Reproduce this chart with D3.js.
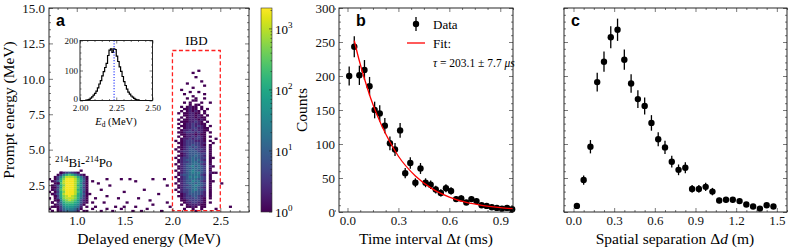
<!DOCTYPE html>
<html>
<head>
<meta charset="utf-8">
<title>Delayed coincidence panels</title>
<script src="https://cdn.jsdelivr.net/npm/d3@7"></script>
<style>
  body { margin: 0; background: #fff; }
</style>
</head>
<body>
<svg id="fig" width="793" height="251"></svg>
<script>
// ---------------- data ----------------
// panel a: ticks
var promptTicks = [2.5, 5.0, 7.5, 10.0, 12.5, 15.0];
var delayedTicks = [1.0, 1.5, 2.0, 2.5];
var cbarTicks = [1, 10, 100, 1000];

// 2D histogram bins (MeV)
var binDE = 0.03, binPE = 0.15;
// count level codes used in the grids below
var levelCounts = {'1': 1, '2': 2, '3': 4, '4': 8, '5': 15, '6': 30, '7': 60,
                   '8': 120, '9': 250, 'a': 500, 'b': 1000, 'c': 2000};

// IBD cluster: delayed 2.02 .. 2.44, rows from prompt 10.50 down to 0.60
var ibdFirstDelayed = 2.02, ibdTopRow = 10.5;
var ibdGrid = [
  "........1.....", "......1.......", "..............", ".......1......",
  "..............", ".........1....", "....1.........", "..........1...",
  "......1.......", "..1...........", ".....1..1.....", "...1......1...",
  "......1.......", "....1..1..1...", "......11......", "...1.1...1..1.",
  ".....1.11.....", "..1.1211.1....", "...11211.1.1..", "..1.12121.1...",
  ".1.112211.1...", "...1122121.1..", "..1.1221211...", ".1.11222121...",
  "..11122321.1..", ".1.12232211...", "..112232321.1.", ".1.122332211..",
  "..1223232211..", ".1123332321.1.",
  "..112221211...", ".1.12232321.1.", "..122323321...", "1.123332221.1.",
  ".1123333322..1", "..123343321.1.", ".1123434322.1.", "1.123443332.1.",
  ".1233444322.1.", "..123444433.1.", ".1123445432.1.", "1.233454433.11",
  ".1234454532.1.", ".1233455443.1.", "1.234455532.1.", ".1234564543.21",
  ".1234455543.1.", "1.234565443.1.", ".1234565643.21", ".1344555532.1.",
  "1.234656543.1.", ".1234555443.1.", ".1234465532.11", "1.234554543.1.",
  ".1233456543.1.", ".1234455432.1.", "1.233456443.1.", ".1233454432.1.",
  "..123444432.1.", ".1123344322.1.", "..123334321.1.", "..112333321...",
  "...12233221.1.", "..1.1222211...", "....1121.11...", "...1..1..1....",
  ".......1......"
];

// 214Bi-214Po cluster: delayed 0.70 .. 1.15, rows from prompt 3.30 down to 0.60
var bipoFirstDelayed = 0.7, bipoTopRow = 3.3;
var bipoGrid = [
  "....1234321....", "...1368986421..", "..1369bbba8631.", "..138acccb9741.",
  ".1248bcccb9741.", "..139bcccb9631.", ".1248acccb8741.", "..138bcccb9631.",
  ".1249bcccb8641.", "..138acccb9731.", ".1248bcccb8641.", "..138abcba8631.",
  "..137abbba8531.", "..1369aba97421.", ".1.25899987421.", "..12478887631..",
  ".1.136777652.1.", "1..135666541...", ".1.12455542.1.."
];

// isolated accidental events [delayed, prompt]
var bgEvents = [
  [0.72, 2.85], [0.75, 2.3], [0.72, 2.0], [0.78, 1.75], [0.72, 1.5], [0.75, 1.2],
  [0.78, 0.95], [0.72, 0.8], [0.75, 0.65], [0.79, 2.6], [0.79, 1.4], [0.73, 1.9],
  [1.16, 2.8], [1.22, 2.6], [1.3, 2.95], [1.45, 2.9], [1.55, 2.95], [1.62, 2.8],
  [1.78, 2.95], [1.9, 2.9], [1.25, 2.2], [1.35, 2.45], [1.5, 2.0], [1.7, 2.2],
  [1.85, 1.9], [1.95, 2.5], [1.18, 1.6], [1.28, 1.3], [1.4, 1.0], [1.52, 1.2],
  [1.6, 0.9], [1.65, 1.5], [1.72, 0.8], [1.8, 1.1], [1.88, 0.7], [1.95, 1.3],
  [1.98, 0.95], [1.15, 0.8], [1.2, 1.0], [1.25, 0.7], [1.32, 0.85], [1.38, 0.65],
  [1.45, 0.75], [1.5, 0.9], [1.58, 0.7], [1.12, 1.9], [1.17, 1.2], [1.3, 1.7],
  [1.42, 1.5], [1.1, 0.65], [1.67, 0.65], [1.75, 1.4], [2.52, 2.65], [2.45, 5.8],
  [2.45, 0.75], [2.6, 1.0], [2.46, 3.4], [1.05, 3.5], [0.82, 3.4]
];

// inset: delayed energy spectrum of IBD candidates (bin left edges, MeV)
var edLeft = [2.00, 2.01, 2.02, 2.03, 2.04, 2.05, 2.06, 2.07, 2.08, 2.09,
              2.10, 2.11, 2.12, 2.13, 2.14, 2.15, 2.16, 2.17, 2.18, 2.19,
              2.20, 2.21, 2.22, 2.23, 2.24, 2.25, 2.26, 2.27, 2.28, 2.29,
              2.30, 2.31, 2.32, 2.33, 2.34, 2.35, 2.36, 2.37, 2.38, 2.39,
              2.40, 2.41, 2.42, 2.43, 2.44, 2.45, 2.46, 2.47, 2.48, 2.49];
var edCounts = [0, 0, 0, 0, 1, 2, 4, 8, 12, 18,
                24, 31, 42, 55, 66, 82, 96, 110, 124, 150,
                168, 172, 160, 172, 170, 148, 130, 112, 97, 80,
                63, 50, 38, 28, 21, 15, 11, 7, 4, 2,
                1, 0, 0, 0, 0, 0, 0, 0, 0, 0];
var edPeak = 2.235;
var insetXTicks = [2.00, 2.25, 2.50];
var insetYTicks = [0, 100, 200];

// panel b: time interval
var countTicks = [0, 50, 100, 150, 200, 250, 300];
var dtTicks = [0.0, 0.3, 0.6, 0.9];
var dtCenters = [0.01, 0.04, 0.07, 0.10, 0.13, 0.16, 0.19, 0.22, 0.25, 0.28, 0.31,
                 0.34, 0.37, 0.40, 0.43, 0.46, 0.49, 0.52, 0.55, 0.58, 0.61, 0.64,
                 0.67, 0.70, 0.73, 0.76, 0.79, 0.82, 0.85, 0.88, 0.91, 0.94, 0.97];
var dtCounts = [200, 243, 201, 209, 185, 150, 145, 127, 101, 92, 120,
                57, 72, 43, 64, 43, 40, 33, 28, 35, 31, 19,
                20, 14, 19, 16, 10, 9, 7, 6, 5, 6, 4];
// fit curve
var fitT = [0.04, 0.07, 0.10, 0.15, 0.20, 0.25, 0.30, 0.40, 0.50, 0.60, 0.70, 0.80, 0.90, 0.975];
var fitN = [252, 222, 196, 158, 128, 103, 82, 53, 34, 22, 14, 9.5, 6.5, 5];

// panel c: spatial separation
var ddTicks = [0.0, 0.3, 0.6, 0.9, 1.2, 1.5];
var ddCenters = [0.025, 0.075, 0.125, 0.175, 0.225, 0.275, 0.325, 0.375, 0.425, 0.475,
                 0.525, 0.575, 0.625, 0.675, 0.725, 0.775, 0.825, 0.875, 0.925, 0.975,
                 1.025, 1.075, 1.125, 1.175, 1.225, 1.275, 1.325, 1.375, 1.425, 1.475];
var ddCounts = [9, 47, 96, 191, 221, 257, 268, 224, 189, 166,
                156, 131, 107, 95, 74, 62, 65, 34, 34, 37,
                30, 17, 18, 18, 16, 11, 8, 5, 10, 8];

// ---------------- drawing ----------------
var serif = "'Liberation Serif', 'Times New Roman', serif";
var sans = "'Liberation Sans', Arial, sans-serif";
var svg = d3.select('#fig');

function minorsOf(lo, hi, step, majors) {
  return d3.range(Math.round(lo / step), Math.round(hi / step) + 1)
    .map(function (k) { return +(k * step).toFixed(6); })
    .filter(function (v) { return majors.every(function (m) { return Math.abs(m - v) > 1e-6; }); });
}

function styleAxis(sel, fs) {
  sel.select('.domain').remove();
  sel.selectAll('line').attr('stroke', '#222').attr('stroke-width', 0.6);
  sel.selectAll('text').attr('font-family', serif).attr('font-size', fs).attr('fill', '#111');
  // tick-only axes leave empty labels behind, drop them
  sel.selectAll('text').filter(function () { return this.textContent === ''; }).remove();
}

// ticks on all four sides, pointing inward
function frameAxes(g, x, y, o) {
  var y0 = y.range()[0], y1 = y.range()[1], x0 = x.range()[0], x1 = x.range()[1];
  var maj = o.maj || 4, mnr = o.mnr || 2;
  g.append('g').attr('transform', 'translate(0,' + y0 + ')')
    .call(d3.axisBottom(x).tickValues(o.xMinor).tickSize(-mnr).tickFormat(''))
    .call(styleAxis, o.fs);
  g.append('g').attr('transform', 'translate(0,' + y0 + ')')
    .call(d3.axisBottom(x).tickValues(o.xMajor).tickSize(-maj).tickPadding(o.padX || o.pad).tickFormat(o.xFmt || ''))
    .call(styleAxis, o.fs);
  g.append('g').attr('transform', 'translate(0,' + y1 + ')')
    .call(d3.axisTop(x).tickValues(o.xMinor).tickSize(-mnr).tickFormat(''))
    .call(styleAxis, o.fs);
  g.append('g').attr('transform', 'translate(0,' + y1 + ')')
    .call(d3.axisTop(x).tickValues(o.xMajor).tickSize(-maj).tickFormat(''))
    .call(styleAxis, o.fs);
  g.append('g').attr('transform', 'translate(' + x0 + ',0)')
    .call(d3.axisLeft(y).tickValues(o.yMinor).tickSize(-mnr).tickFormat(''))
    .call(styleAxis, o.fs);
  g.append('g').attr('transform', 'translate(' + x0 + ',0)')
    .call(d3.axisLeft(y).tickValues(o.yMajor).tickSize(-maj).tickPadding(o.pad).tickFormat(o.yFmt || ''))
    .call(styleAxis, o.fs);
  g.append('g').attr('transform', 'translate(' + x1 + ',0)')
    .call(d3.axisRight(y).tickValues(o.yMinor).tickSize(-mnr).tickFormat(''))
    .call(styleAxis, o.fs);
  g.append('g').attr('transform', 'translate(' + x1 + ',0)')
    .call(d3.axisRight(y).tickValues(o.yMajor).tickSize(-maj).tickFormat(''))
    .call(styleAxis, o.fs);
  g.append('rect').attr('x', x0).attr('y', y1).attr('width', x1 - x0).attr('height', y0 - y1)
    .attr('fill', 'none').attr('stroke', '#111').attr('stroke-width', 0.9);
}

function panelLetter(txt, x, y) {
  svg.append('text').attr('x', x).attr('y', y).text(txt)
    .attr('font-family', sans).attr('font-weight', 'bold').attr('font-size', 16).attr('fill', '#000');
}

// ===== panel a =====
var xa = d3.scaleLinear().domain([0.71, 2.8]).range([49, 249]);
var ya = d3.scaleLinear().domain([0.6, 15]).range([212, 8]);
var color = d3.scaleSequentialLog(d3.interpolateViridis).domain([1, 2200]);

var cells = [];
function addGrid(rows, firstDelayed, topRow) {
  rows.forEach(function (row, i) {
    var p0 = topRow - i * binPE;
    row.split('').forEach(function (ch, j) {
      if (ch === '.') return;
      cells.push({d: firstDelayed + j * binDE, p: p0, n: levelCounts[ch]});
    });
  });
}
addGrid(ibdGrid, ibdFirstDelayed, ibdTopRow);
addGrid(bipoGrid, bipoFirstDelayed, bipoTopRow);
bgEvents.forEach(function (e) {
  cells.push({
    d: 0.7 + Math.floor((e[0] - 0.7) / binDE + 1e-9) * binDE,
    p: 0.6 + Math.floor((e[1] - 0.6) / binPE + 1e-9) * binPE,
    n: 1
  });
});

var ga = svg.append('g');
svg.append('clipPath').attr('id', 'clipA').append('rect')
  .attr('x', 49).attr('y', 8).attr('width', 200).attr('height', 204);
ga.append('g').attr('clip-path', 'url(#clipA)')
  .selectAll('rect').data(cells).enter().append('rect')
  .attr('x', function (c) { return xa(c.d); })
  .attr('y', function (c) { return ya(c.p + binPE); })
  .attr('width', function (c) { return xa(c.d + binDE) - xa(c.d) + 0.2; })
  .attr('height', function (c) { return ya(c.p) - ya(c.p + binPE) + 0.2; })
  .attr('fill', function (c) { return color(c.n); });

// IBD selection window
ga.append('rect')
  .attr('x', xa(2.0)).attr('y', ya(12.0))
  .attr('width', xa(2.5) - xa(2.0)).attr('height', ya(0.7) - ya(12.0))
  .attr('fill', 'none').attr('stroke', '#ff2020').attr('stroke-width', 1.3)
  .attr('stroke-dasharray', '4,2.5');

frameAxes(ga, xa, ya, {
  xMajor: delayedTicks, xMinor: minorsOf(0.8, 2.8, 0.1, delayedTicks),
  yMajor: promptTicks, yMinor: minorsOf(1.0, 15, 0.5, promptTicks),
  xFmt: d3.format('.1f'), yFmt: d3.format('.1f'), fs: 13, pad: 4
});

ga.append('text').attr('x', xa(2.25)).attr('y', 45).attr('text-anchor', 'middle')
  .attr('font-family', serif).attr('font-size', 13).text('IBD');
var bl = ga.append('text').attr('x', 55).attr('y', 167)
  .attr('font-family', serif).attr('font-size', 13);
bl.append('tspan').attr('font-size', 9).attr('dy', -5).text('214');
bl.append('tspan').attr('dy', 5).text('Bi-');
bl.append('tspan').attr('font-size', 9).attr('dy', -5).text('214');
bl.append('tspan').attr('dy', 5).text('Po');

svg.append('text').attr('transform', 'translate(14,110) rotate(-90)')
  .attr('text-anchor', 'middle').attr('font-family', serif).attr('font-size', 15.5)
  .text('Prompt energy (MeV)');
svg.append('text').attr('x', 149).attr('y', 244).attr('text-anchor', 'middle')
  .attr('font-family', serif).attr('font-size', 15.5).text('Delayed energy (MeV)');

// inset
var xi = d3.scaleLinear().domain([2.0, 2.5]).range([80, 152.5]);
var yi = d3.scaleLinear().domain([0, 200]).range([100.5, 40.5]);
var gi = svg.append('g');
gi.append('rect').attr('x', 80).attr('y', 40.5).attr('width', 72.5).attr('height', 60).attr('fill', '#fff');
var stepPts = edLeft.map(function (e, i) { return [e, edCounts[i]]; });
stepPts.push([2.5, edCounts[edCounts.length - 1]]);
gi.append('path').datum(stepPts)
  .attr('d', d3.line().curve(d3.curveStepAfter)
    .x(function (p) { return xi(p[0]); }).y(function (p) { return yi(p[1]); }))
  .attr('fill', 'none').attr('stroke', '#000').attr('stroke-width', 1.2);
gi.append('line').attr('x1', xi(edPeak)).attr('x2', xi(edPeak)).attr('y1', yi(0)).attr('y2', yi(200))
  .attr('stroke', '#2233ff').attr('stroke-width', 1.1).attr('stroke-dasharray', '1.2,1.6');
frameAxes(gi, xi, yi, {
  xMajor: insetXTicks, xMinor: minorsOf(2.05, 2.45, 0.05, insetXTicks),
  yMajor: insetYTicks, yMinor: minorsOf(20, 180, 20, insetYTicks),
  xFmt: d3.format('.2f'), yFmt: d3.format('d'), fs: 9, pad: 2, padX: 4, maj: 3, mnr: 1.5
});
// lift the lowest y label a little so it clears the x labels
gi.selectAll('text').filter(function () { return this.textContent === '0'; }).attr('dy', '0.1em');
var el = gi.append('text').attr('x', 116).attr('y', 125).attr('text-anchor', 'middle')
  .attr('font-family', serif).attr('font-size', 10.5);
el.append('tspan').attr('font-style', 'italic').text('E');
el.append('tspan').attr('font-size', 7.5).attr('dy', 2).text('d');
el.append('tspan').attr('dy', -2).text(' (MeV)');

panelLetter('a', 56, 26);

// colorbar
var cb = svg.append('g');
var ycb = d3.scaleLog().domain([1, 2200]).range([212, 8]);
var grad = svg.append('defs').append('linearGradient').attr('id', 'cbgrad')
  .attr('x1', 0).attr('y1', 1).attr('x2', 0).attr('y2', 0);
d3.range(0, 1.0001, 0.05).forEach(function (t) {
  grad.append('stop').attr('offset', t).attr('stop-color', d3.interpolateViridis(t));
});
cb.append('rect').attr('x', 261).attr('y', 8).attr('width', 11).attr('height', 204)
  .attr('fill', 'url(#cbgrad)').attr('stroke', '#333').attr('stroke-width', 0.6);
var cbMinor = [];
[1, 10, 100, 1000].forEach(function (dec) {
  [2, 3, 4, 5, 6, 7, 8, 9].forEach(function (m) { if (dec * m < 2200) cbMinor.push(dec * m); });
});
cb.selectAll('line.mn').data(cbMinor).enter().append('line')
  .attr('x1', 272).attr('x2', 270.5).attr('y1', ycb).attr('y2', ycb)
  .attr('stroke', '#222').attr('stroke-width', 0.6);
cb.selectAll('line.mj').data(cbarTicks).enter().append('line')
  .attr('x1', 272).attr('x2', 269).attr('y1', ycb).attr('y2', ycb)
  .attr('stroke', '#222').attr('stroke-width', 0.6);
cbarTicks.forEach(function (v) {
  var t = cb.append('text').attr('x', 275).attr('y', ycb(v) + 5)
    .attr('font-family', serif).attr('font-size', 13);
  t.append('tspan').text('10');
  t.append('tspan').attr('font-size', 9).attr('dy', -6).text(String(Math.round(Math.log10(v))));
});

// ===== panel b =====
var xb = d3.scaleLinear().domain([-0.05, 0.975]).range([339, 513]);
var yb = d3.scaleLinear().domain([0, 300]).range([212, 8]);
var gb = svg.append('g');

function errPoints(g, x, y, xs, ns) {
  var pts = xs.map(function (v, i) { return {x: v, n: ns[i]}; });
  g.selectAll('line.err').data(pts).enter().append('line')
    .attr('x1', function (p) { return x(p.x); }).attr('x2', function (p) { return x(p.x); })
    .attr('y1', function (p) { return y(p.n - Math.sqrt(p.n)); })
    .attr('y2', function (p) { return y(p.n + Math.sqrt(p.n)); })
    .attr('stroke', '#000').attr('stroke-width', 1.3);
  g.selectAll('circle.pt').data(pts).enter().append('circle')
    .attr('cx', function (p) { return x(p.x); }).attr('cy', function (p) { return y(p.n); })
    .attr('r', 3.2).attr('fill', '#000');
}

errPoints(gb, xb, yb, dtCenters, dtCounts);
gb.append('path').datum(fitT.map(function (t, i) { return [t, fitN[i]]; }))
  .attr('d', d3.line().curve(d3.curveMonotoneX)
    .x(function (p) { return xb(p[0]); }).y(function (p) { return yb(p[1]); }))
  .attr('fill', 'none').attr('stroke', '#ff0000').attr('stroke-width', 1.3);

frameAxes(gb, xb, yb, {
  xMajor: dtTicks, xMinor: minorsOf(-0.075, 0.975, 0.075, dtTicks),
  yMajor: countTicks, yMinor: minorsOf(10, 290, 10, countTicks),
  xFmt: d3.format('.1f'), yFmt: d3.format('d'), fs: 13, pad: 4
});

// legend
gb.append('line').attr('x1', 416).attr('x2', 416).attr('y1', 17).attr('y2', 31)
  .attr('stroke', '#000').attr('stroke-width', 1.3);
gb.append('circle').attr('cx', 416).attr('cy', 24).attr('r', 3.2).attr('fill', '#000');
gb.append('text').attr('x', 433).attr('y', 28.5).attr('font-family', serif).attr('font-size', 13).text('Data');
gb.append('line').attr('x1', 407).attr('x2', 425).attr('y1', 43).attr('y2', 43)
  .attr('stroke', '#ff0000').attr('stroke-width', 1.3);
gb.append('text').attr('x', 433).attr('y', 47.5).attr('font-family', serif).attr('font-size', 13).text('Fit:');
var tau = gb.append('text').attr('x', 433).attr('y', 67).attr('font-family', serif).attr('font-size', 11.5);
tau.append('tspan').attr('font-style', 'italic').text('τ');
tau.append('tspan').text(' = 203.1 ± 7.7 ');
tau.append('tspan').attr('font-style', 'italic').text('μs');

svg.append('text').attr('transform', 'translate(307,110) rotate(-90)')
  .attr('text-anchor', 'middle').attr('font-family', serif).attr('font-size', 15.5).text('Counts');
var bx = svg.append('text').attr('x', 426).attr('y', 244).attr('text-anchor', 'middle')
  .attr('font-family', serif).attr('font-size', 15.5);
bx.append('tspan').text('Time interval Δ');
bx.append('tspan').attr('font-style', 'italic').text('t');
bx.append('tspan').text(' (ms)');
panelLetter('b', 356, 26);

// ===== panel c =====
var xc = d3.scaleLinear().domain([-0.07, 1.575]).range([564, 787]);
var yc = d3.scaleLinear().domain([0, 300]).range([212, 8]);
var gc = svg.append('g');
errPoints(gc, xc, yc, ddCenters, ddCounts);
frameAxes(gc, xc, yc, {
  xMajor: ddTicks, xMinor: minorsOf(-0.075, 1.575, 0.075, ddTicks),
  yMajor: countTicks, yMinor: minorsOf(10, 290, 10, countTicks),
  xFmt: d3.format('.1f'), yFmt: null, fs: 13, pad: 4
});
var cx = svg.append('text').attr('x', 675).attr('y', 244).attr('text-anchor', 'middle')
  .attr('font-family', serif).attr('font-size', 15.5);
cx.append('tspan').text('Spatial separation Δ');
cx.append('tspan').attr('font-style', 'italic').text('d');
cx.append('tspan').text(' (m)');
panelLetter('c', 571, 26);
</script>
</body>
</html>
